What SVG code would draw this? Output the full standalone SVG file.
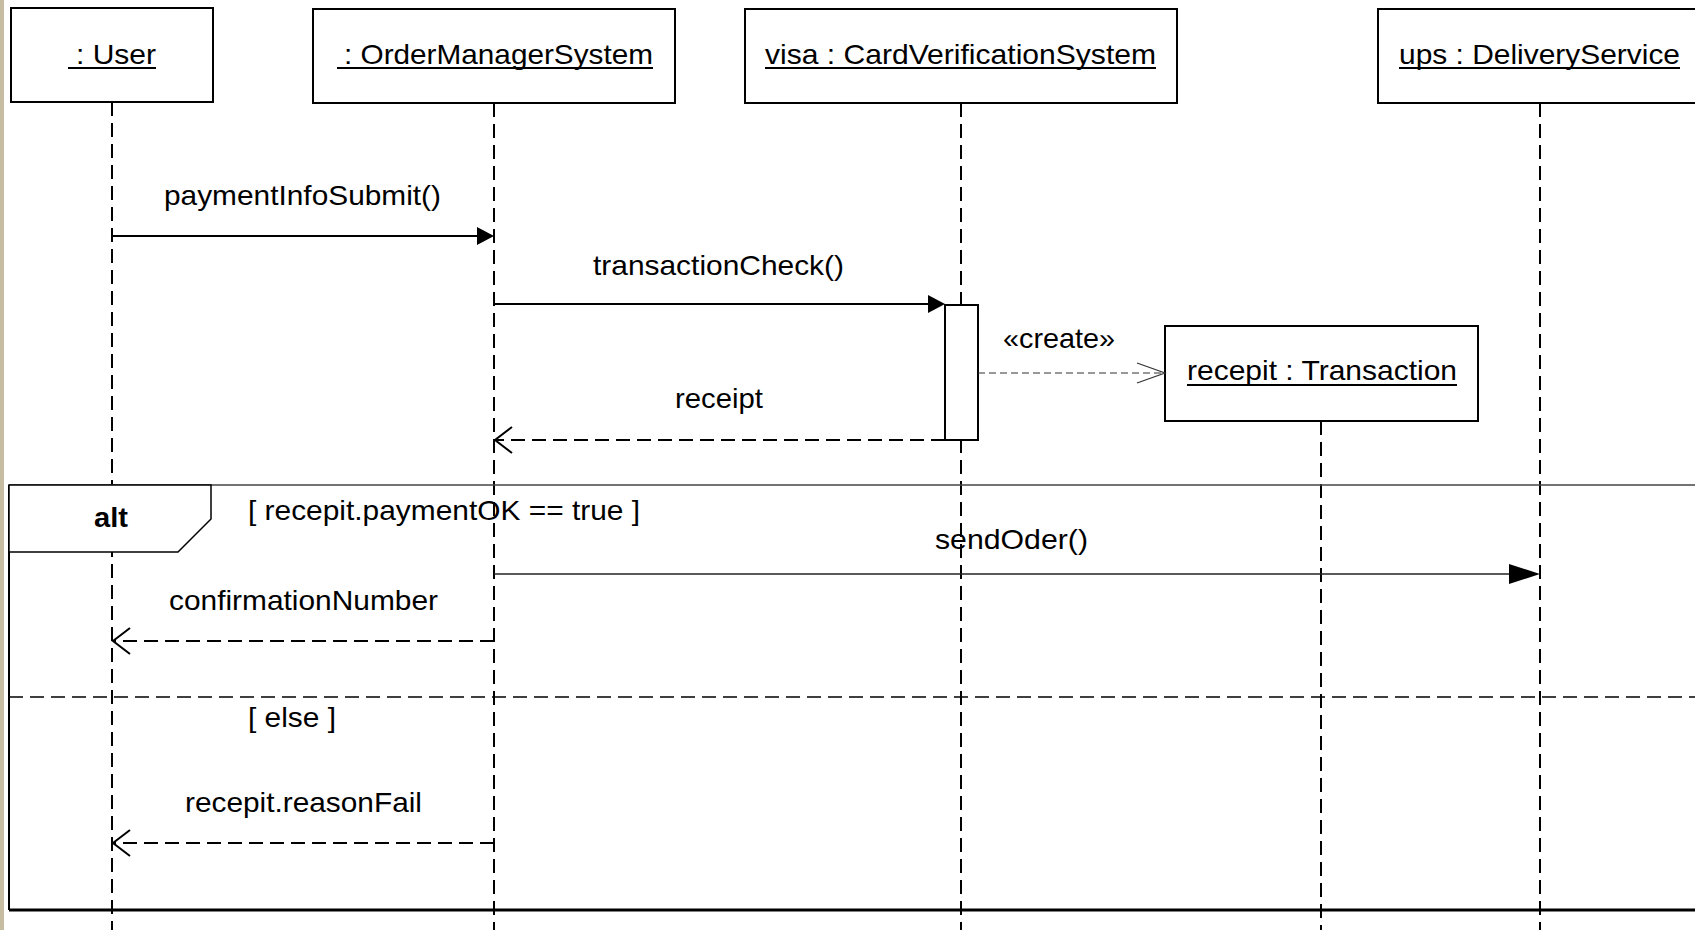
<svg xmlns="http://www.w3.org/2000/svg" width="1695" height="930" viewBox="0 0 1695 930">
<style>
text{font-family:"Liberation Sans",Arial,sans-serif;font-size:28px;fill:#000}
.box{fill:#fff;stroke:#000;stroke-width:2}
.ul{stroke:#000;stroke-width:2}
.life{stroke:#000;stroke-width:2;stroke-dasharray:14 7;fill:none}
.msg{stroke:#000;stroke-width:2;fill:none}
.ret{stroke:#000;stroke-width:2;stroke-dasharray:14 7;fill:none}
.head{fill:#000;stroke:none}
.open{fill:none;stroke:#000;stroke-width:2}
</style>
<rect x="0" y="0" width="1695" height="930" fill="#fff"/>
<rect x="0" y="0" width="4" height="930" fill="#c6bca2"/>

<g id="lifelines">
<line class="life" x1="112" y1="102" x2="112" y2="930"/>
<line class="life" x1="494" y1="103" x2="494" y2="930"/>
<line class="life" x1="961" y1="103" x2="961" y2="930"/>
<line class="life" x1="1540" y1="103" x2="1540" y2="930"/>
<line class="life" x1="1321" y1="421" x2="1321" y2="930"/>
</g>

<g id="user">
<rect class="box" x="11" y="8" width="202" height="94"/>
<text x="76" y="64" textLength="80" lengthAdjust="spacingAndGlyphs">: User</text>
<line class="ul" x1="68" y1="68" x2="156" y2="68"/>
</g>
<g id="oms">
<rect class="box" x="313" y="9" width="362" height="94"/>
<text x="344" y="64" textLength="309" lengthAdjust="spacingAndGlyphs">: OrderManagerSystem</text>
<line class="ul" x1="337" y1="68" x2="653" y2="68"/>
</g>
<g id="visa">
<rect class="box" x="745" y="9" width="432" height="94"/>
<text x="765" y="64" textLength="391" lengthAdjust="spacingAndGlyphs">visa : CardVerificationSystem</text>
<line class="ul" x1="765" y1="68" x2="1156" y2="68"/>
</g>
<g id="ups">
<rect class="box" x="1378" y="9" width="330" height="94"/>
<text x="1399" y="64" textLength="281" lengthAdjust="spacingAndGlyphs">ups : DeliveryService</text>
<line class="ul" x1="1399" y1="68" x2="1680" y2="68"/>
</g>
<g id="transaction">
<rect class="box" x="1165" y="326" width="313" height="95"/>
<text x="1187" y="380" textLength="270" lengthAdjust="spacingAndGlyphs">recepit : Transaction</text>
<line class="ul" x1="1187" y1="385" x2="1457" y2="385"/>
</g>
<g id="activation">
<rect class="box" x="945" y="305" width="33" height="135"/>
</g>

<g id="alt-frame">
<line x1="9" y1="485" x2="1695" y2="485" stroke="#444" stroke-width="1.5"/>
<line x1="9" y1="485" x2="9" y2="910" stroke="#000" stroke-width="2"/>
<line x1="9" y1="910" x2="1695" y2="910" stroke="#000" stroke-width="3"/>
<path d="M9,485 H211 V519 L178,552 H9 Z" fill="#fff" stroke="#000" stroke-width="1.5"/>
<text x="94" y="527" font-weight="bold" textLength="34" lengthAdjust="spacingAndGlyphs">alt</text>
<text x="248" y="520" textLength="392" lengthAdjust="spacingAndGlyphs">[ recepit.paymentOK == true ]</text>
<line x1="9" y1="697" x2="1695" y2="697" stroke="#000" stroke-width="1.5" stroke-dasharray="14 7"/>
<text x="248" y="727" textLength="88" lengthAdjust="spacingAndGlyphs">[ else ]</text>
</g>

<g id="connectors">
<line class="msg" x1="112" y1="236" x2="480" y2="236"/>
<path class="head" d="M477,227 L494,236 L477,245 Z"/>
<text x="164" y="205" textLength="277" lengthAdjust="spacingAndGlyphs">paymentInfoSubmit()</text>

<line class="msg" x1="494" y1="304" x2="931" y2="304"/>
<path class="head" d="M928,295 L945,304 L928,313 Z"/>
<text x="593" y="275" textLength="251" lengthAdjust="spacingAndGlyphs">transactionCheck()</text>

<line x1="978" y1="373" x2="1164" y2="373" stroke="#333" stroke-width="1.2" stroke-dasharray="7 4"/>
<path d="M1137,363 L1165,373 L1137,383" fill="none" stroke="#333" stroke-width="1.2"/>
<text x="1003" y="348" textLength="112" lengthAdjust="spacingAndGlyphs">«create»</text>

<line class="ret" x1="945" y1="440" x2="495" y2="440"/>
<path class="open" d="M512,427 L495,440 L512,453"/>
<text x="675" y="408" textLength="88" lengthAdjust="spacingAndGlyphs">receipt</text>

<line x1="494" y1="574" x2="1512" y2="574" stroke="#222" stroke-width="1.3"/>
<path class="head" d="M1509,564 L1540,574 L1509,584 Z"/>
<text x="935" y="549" textLength="153" lengthAdjust="spacingAndGlyphs">sendOder()</text>

<line class="ret" x1="494" y1="641" x2="113" y2="641"/>
<path class="open" d="M130,628 L113,641 L130,654"/>
<text x="169" y="610" textLength="269" lengthAdjust="spacingAndGlyphs">confirmationNumber</text>

<line class="ret" x1="494" y1="843" x2="113" y2="843"/>
<path class="open" d="M130,830 L113,843 L130,856"/>
<text x="185" y="812" textLength="237" lengthAdjust="spacingAndGlyphs">recepit.reasonFail</text>
</g>
</svg>
